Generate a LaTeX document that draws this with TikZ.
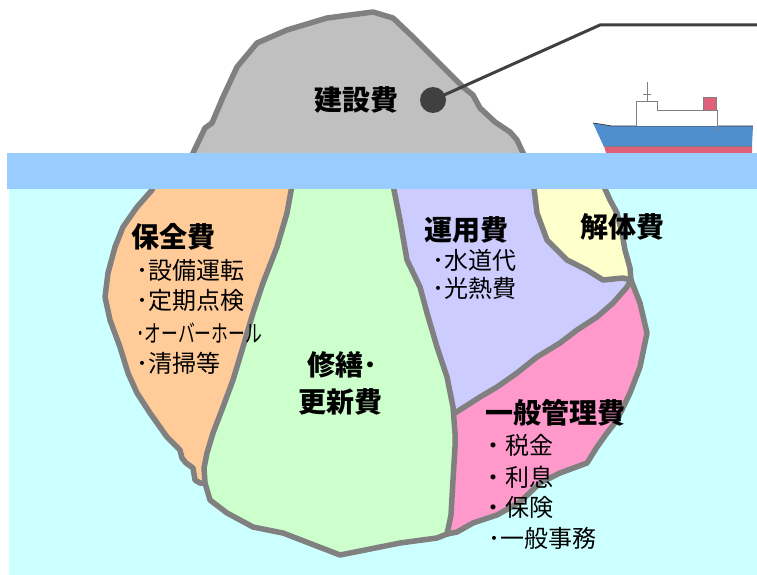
\documentclass[tikz,border=0pt]{standalone}
\usepackage{graphicx}
\usepackage{fontspec}
\setmainfont{Noto Sans CJK JP}

\definecolor{rim}{HTML}{808080}
\definecolor{ice}{HTML}{C0C0C0}
\definecolor{sea}{HTML}{CCFFFF}
\definecolor{surf}{HTML}{99CCFF}
\definecolor{cOrange}{HTML}{FFCC99}
\definecolor{cGreen}{HTML}{CCFFCC}
\definecolor{cPurple}{HTML}{CCCCFF}
\definecolor{cYellow}{HTML}{FFFFCC}
\definecolor{cPink}{HTML}{FF99CC}
\definecolor{lead}{HTML}{404040}
\definecolor{hull}{HTML}{4F8FD0}
\definecolor{keel}{HTML}{E0607A}

% outline of the submerged part
\def\Outer{(155,180) -- (601,180) -- (610,200) -- (617,213) -- (622,233) -- (625,250) -- (630,268) -- (631,280) -- (640,303) -- (647,333) -- (640,367) -- (630,393) -- (617,420) -- (607,433) -- (597,447) -- (587,463) -- (560,473) -- (540,483) -- (520,502) -- (497,515) -- (473,523) -- (457,532) -- (447,534) -- (437,538) -- (400,543) -- (340,555) -- (283,533) -- (253,527) -- (227,513) -- (210,500) -- (205,483) -- (200,483) -- (195,480) -- (193,468) -- (186,463) -- (182,458) -- (180,450) -- (167,437) -- (150,413) -- (137,393) -- (128,373) -- (120,347) -- (110,320) -- (105,297) -- (108,273) -- (115,247) -- (123,227) -- (137,207) -- (152,190) -- cycle}
% boundaries between the cost areas
\def\DivA{(293,180) -- (287,213) -- (277,247) -- (263,283) -- (253,313) -- (243,347) -- (233,380) -- (223,407) -- (213,433) -- (207,453) -- (204,468) -- (205,483)}
\def\DivB{(392,180) -- (400,220) -- (407,260) -- (420,287) -- (427,313) -- (437,347) -- (447,377) -- (453,407) -- (455,433) -- (455,447) -- (453,480) -- (451,515) -- (447,534)}
\def\DivC{(455,413) -- (480,397) -- (497,387) -- (517,373) -- (537,357) -- (560,343) -- (577,330) -- (597,317) -- (613,303) -- (627,287) -- (631,280)}
\def\DivD{(533,180) -- (537,213) -- (547,240) -- (567,260) -- (587,270) -- (603,280) -- (623,278) -- (631,280)}
% visible tip above the surface
\def\Tip{(190,165) -- (193,153) -- (205,128) -- (212,123) -- (223,97) -- (237,67) -- (257,43) -- (287,30) -- (327,18) -- (373,12) -- (393,18) -- (413,37) -- (443,67) -- (463,87) -- (473,95) -- (480,108) -- (495,122) -- (510,132) -- (517,140) -- (524,155) -- (526,165) -- cycle}

\tikzset{
  edge/.style={draw=rim, line width=5.5pt, line join=round, line cap=round},
  head/.style={font=\bfseries\fontsize{28}{30}\selectfont, inner sep=0pt},
  item/.style={font=\fontsize{24}{26}\selectfont, inner sep=0pt, anchor=west},
  leader/.style={draw=lead, line width=3pt},
}

\begin{document}
\begin{tikzpicture}[x=1pt,y=-1pt]
\useasboundingbox (0,0) rectangle (757,575);

% sea below the surface
\fill[sea] (9,189) rectangle (757,575);

% cost areas of the submerged part
\begin{scope}
  \clip \Outer;
  \fill[cGreen] (0,100) rectangle (800,600);
  \fill[cOrange] \DivA -- (205,600) -- (0,600) -- (0,100) -- (293,100) -- cycle;
  \fill[cPurple] (392,100) -- \DivB -- (447,600) -- (800,600) -- (800,100) -- cycle;
  \fill[cPink] \DivC -- (800,280) -- (800,600) -- (447,600) -- (447,534) -- (451,515) -- (453,480) -- (455,447) -- (455,433) -- cycle;
  \fill[cYellow] (533,100) -- \DivD -- (800,280) -- (800,100) -- cycle;
\end{scope}
\path[edge] \Outer;
\path[edge] \DivA;
\path[edge] \DivB;
\path[edge] \DivC;
\path[edge] \DivD;

% part above the surface
\path[edge, fill=ice] \Tip;

% ship
\fill[hull] (593,123) -- (612,126) -- (753,126) -- (752,146) -- (604,147) -- cycle;
\draw[lead, line width=0.8pt] (593,123) -- (612,126) -- (753,126);
\fill[keel] (604,146) -- (752,146) -- (752,153) -- (606,153) -- cycle;
\draw[rim, line width=0.8pt] (604,146) -- (752,146);
\draw[rim, line width=0.9pt, fill=white] (636,126) -- (636,101) -- (657,101) -- (657,110) -- (717,110) -- (717,126);
\draw[rim, line width=0.9pt] (647,101) -- (647,82) (643,94) -- (651,94) (717,110) -- (717,133);
\fill[keel] (703,97) rectangle (716,110);
\draw[rim, line width=0.6pt] (703,97) rectangle (716,110);

% surface of the water
\fill[surf] (7,153) rectangle (757,189);

% leader from the construction cost
\node[circle, fill=lead, minimum size=26pt, inner sep=0pt] (dot) at (433,100) {};
\coordinate (bend) at (600,25);
\coordinate (lend) at (757,25);
\path[leader] (dot.center) -- (bend) -- (lend);

% labels
\node[head] (kensetsu) at (356,100) {建設費};
\node[head] (hozen) at (173,237) {保全費};
\node[item] (h1) at (136,270) {･設備運転};
\node[item] (h2) at (136,300) {･定期点検};
\node[item] (h3) at (136,333) {\scalebox{0.7}[1]{･オーバーホール}};
\node[item] (h4) at (136,363) {･清掃等};
\node[head] (unyo) at (466,230) {運用費};
\node[item] (u1) at (432,260) {･水道代};
\node[item] (u2) at (432,288) {･光熱費};
\node[head] (kaitai) at (622,227) {解体費};
\node[head] (shuzen) at (342,365) {修繕･};
\node[head] (koshin) at (340,402) {更新費};
\node[head] (kanri) at (555,413) {一般管理費};
\node[item] (k1) at (481,445) {・税金};
\node[item] (k2) at (481,477) {・利息};
\node[item] (k3) at (481,507) {・保険};
\node[item] (k4) at (488,538) {･一般事務};
\end{tikzpicture}
\end{document}
